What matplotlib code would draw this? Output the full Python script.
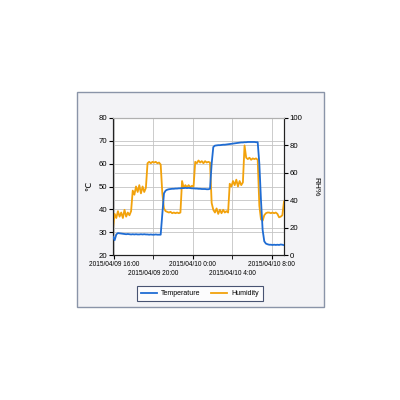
import pandas as pd
import numpy as np
import matplotlib
matplotlib.use("Agg")
import matplotlib.pyplot as plt
from matplotlib.patches import Rectangle
from matplotlib.lines import Line2D

plt.rcParams['font.family'] = ['Liberation Sans', 'DejaVu Sans']

# -------------------------------------------------
# DATA (10 minute samples)
# -------------------------------------------------
START = "2015-04-09 15:55"

temperature = [
    28.0, 26.5, 29.0, 29.6, 29.5, 29.4, 29.3, 29.2, 29.1, 29.2,
    29.1, 29.0, 29.1, 29.0, 29.1, 29.0, 29.0, 29.1, 29.0, 29.1,
    29.0, 29.0, 28.9, 29.0, 28.9, 28.9, 29.0, 28.9, 28.9, 28.9,
    38.0, 47.0, 48.2, 48.6, 48.8, 48.9, 49.0, 49.0, 49.1, 49.1,
    49.2, 49.2, 49.3, 49.3, 49.4, 49.3, 49.4, 49.3, 49.2, 49.2,
    49.1, 49.1, 49.0, 49.0, 48.9, 48.9, 48.9, 48.8, 48.8, 49.0,
    60.0, 67.3, 67.9, 68.0, 68.1, 68.1, 68.2, 68.3, 68.3, 68.4,
    68.5, 68.6, 68.7, 68.8, 68.9, 69.0, 69.1, 69.2, 69.3, 69.3,
    69.4, 69.4, 69.5, 69.5, 69.5, 69.5, 69.5, 69.4, 69.4, 60.0,
    44.0, 31.0, 26.0, 25.0, 24.7, 24.5, 24.5, 24.4, 24.5, 24.4,
    24.5, 24.4, 24.6, 24.5, 24.3,
]

humidity = [
    20, 30, 27, 32, 28, 31, 27, 33, 28, 31,
    29, 32, 47, 44, 50, 46, 51, 45, 50, 46,
    49, 67, 68, 67, 68, 67.5, 68, 67, 67.5, 66,
    45, 34, 32, 31.5, 31, 31.5, 30.5, 31, 30.5, 31,
    30.5, 31, 54, 49, 51, 49.5, 51, 49.5, 50.5, 50,
    68, 67, 69, 67.5, 68.5, 67, 68.5, 67.5, 68, 67.5,
    38, 33, 31, 34, 30, 33, 30.5, 33, 31, 32,
    31, 52, 50, 54, 51, 55, 50, 54, 51, 53,
    80, 71, 70, 71, 69.5, 70.5, 70, 70.5, 69.5, 36,
    26, 25, 29, 30.5, 31, 31, 30.5, 31, 30.5, 31,
    30, 27.5, 28, 29, 39,
]

times = pd.date_range(START, periods=len(temperature), freq="10min")

# top row / bottom row of date labels
top_ticks = pd.to_datetime(["2015-04-09 16:00", "2015-04-10 00:00", "2015-04-10 08:00"])
top_labels = ["2015/04/09 16:00", "2015/04/10 0:00", "2015/04/10 8:00"]
low_ticks = pd.to_datetime(["2015-04-09 20:00", "2015-04-10 04:00"])
low_labels = ["2015/04/09 20:00", "2015/04/10 4:00"]

BLUE = "#1f6cd3"
ORANGE = "#f2a20c"

# -------------------------------------------------
# FIGURE
# -------------------------------------------------
fig = plt.figure(figsize=(4, 4), dpi=100)
fig.patch.set_facecolor("white")

# panel frame
fig.patches.append(Rectangle((77 / 400, 1 - 307 / 400), 247 / 400, 215 / 400,
                             transform=fig.transFigure, facecolor="#f3f3f6",
                             edgecolor="#8a94a8", lw=1.0, zorder=-5))

ax1 = fig.add_axes([113 / 400, 1 - 255 / 400, 171 / 400, 137 / 400])
ax2 = ax1.twinx()
ax1.set_zorder(1)
ax2.set_zorder(2)

ax1.set_facecolor("white")
ax1.set_ylim(20, 80)
ax1.set_yticks(np.arange(20, 81, 10))
ax2.set_ylim(0, 100)
ax2.set_yticks(np.arange(0, 101, 20))
ax1.set_xlim(times[0], times[-1])

ax1.set_xticks(top_ticks)
ax1.set_xticklabels(top_labels)
ax1.set_xticks(low_ticks, minor=True)
ax1.set_xticklabels(low_labels, minor=True)

ax1.grid(True, which="both", color="#c4c4c4", lw=0.6)
ax2.grid(True, axis="y", color="#c4c4c4", lw=0.6)
ax2.set_axisbelow(True)

# both curves on the front axes so the grids sit underneath
l_temp, = ax2.plot(times, temperature, color=BLUE, lw=1.3,
                   transform=ax1.transData, zorder=3)
l_hum, = ax2.plot(times, humidity, color=ORANGE, lw=1.3, zorder=2)
ax2.set_ylim(0, 100)
ax2.set_xlim(times[0], times[-1])

ax1.tick_params(axis="x", which="major", labelsize=4.7, length=3, pad=1.5)
ax1.tick_params(axis="x", which="minor", labelsize=4.7, length=3, pad=8)
ax1.tick_params(axis="y", labelsize=5.6, length=3, pad=1)
ax2.tick_params(axis="y", labelsize=5.6, length=3, pad=1)

for ax in (ax1, ax2):
    ax.spines["top"].set_color("#b0b0b0")
    for side in ("left", "right", "bottom"):
        ax.spines[side].set_color("#222222")
        ax.spines[side].set_linewidth(0.8)

ax1.set_ylabel("℃", fontsize=6, labelpad=4)
ax2.set_ylabel("RH%", fontsize=6, rotation=270, labelpad=12)

handles = [Line2D([], [], color=BLUE, lw=1.3),
           Line2D([], [], color=ORANGE, lw=1.3)]
leg = fig.legend(handles, ["Temperature", "Humidity"], loc="center",
                 bbox_to_anchor=(200 / 400, 1 - 293.5 / 400), ncol=2,
                 fontsize=5, frameon=True, fancybox=False,
                 handlelength=2.2, handletextpad=0.6, columnspacing=1.6,
                 borderpad=0.6)
leg.get_frame().set_edgecolor("#1c2a50")
leg.get_frame().set_linewidth(0.8)

fig.savefig("out.png", dpi=100)
